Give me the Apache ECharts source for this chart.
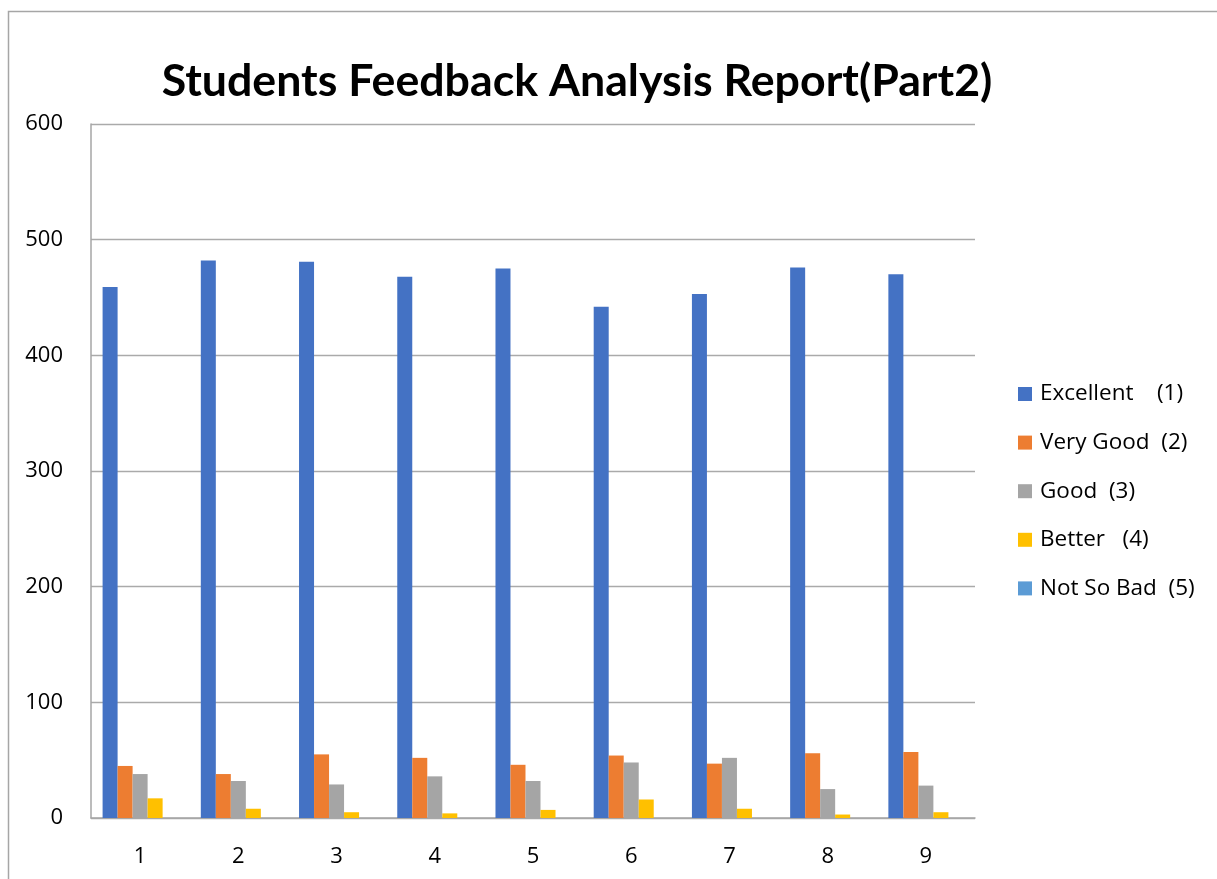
<!DOCTYPE html>
<html>
<head>
<meta charset="utf-8">
<script src="https://cdn.jsdelivr.net/npm/echarts@6/dist/echarts.min.js"></script>
<style>html,body{margin:0;padding:0;background:#fff;}#c{width:1217px;height:879px;}</style>
</head>
<body>
<div id="c"></div>
<script>
const categories = ['1','2','3','4','5','6','7','8','9'];
const seriesNames = ['Excellent    (1)', 'Very Good  (2)', 'Good  (3)', 'Better   (4)', 'Not So Bad  (5)'];
const excellent = [459, 482, 481, 468, 475, 442, 453, 476, 470];
const veryGood  = [45, 38, 55, 52, 46, 54, 47, 56, 57];
const good      = [38, 32, 29, 36, 32, 48, 52, 25, 28];
const better    = [17, 8, 5, 4, 7, 16, 8, 3, 5];
const notSoBad  = [0, 0, 0, 0, 0, 0, 0, 0, 0];
const colors = ['#4472C4', '#ED7D31', '#A5A5A5', '#FFC000', '#5B9BD5'];
const titleText = 'Students Feedback Analysis Report(Part2)';

const values = [excellent, veryGood, good, better, notSoBad];
const chart = echarts.init(document.getElementById('c'), null, {renderer: 'canvas'});
const font = '"Open Sans", "Noto Sans", sans-serif';
chart.setOption({
  animation: false,
  color: colors,
  graphic: [
    {type: 'rect', shape: {x: 8.5, y: 11.5, width: 1400, height: 1000}, style: {fill: 'none', stroke: '#a6a6a6', lineWidth: 1.5}, silent: true, z: -1},
    {type: 'text', x: 577, y: 82, style: {text: titleText, font: 'bold 44.7px Lato, "Open Sans", sans-serif', fill: '#000', textAlign: 'center', textVerticalAlign: 'middle'}}
  ],
  grid: {left: 91, right: 242, top: 124, bottom: 61, containLabel: false},
  legend: {
    orient: 'vertical', left: 1018, top: 382, padding: 0,
    icon: 'rect', itemWidth: 14, itemHeight: 14, itemGap: 24.6,
    textStyle: {fontFamily: font, fontSize: 22.5, color: '#000', lineHeight: 24, padding: [0, 0, 0, 3]},
    data: seriesNames
  },
  xAxis: {
    type: 'category', data: categories,
    axisLine: {show: true, lineStyle: {color: '#a6a6a6', width: 1.5}},
    axisTick: {show: false},
    axisLabel: {fontFamily: font, fontSize: 22, color: '#000', margin: 28}
  },
  yAxis: {
    type: 'value', min: 0, max: 600, interval: 100,
    axisLine: {show: true, lineStyle: {color: '#a6a6a6', width: 1.5}},
    axisTick: {show: false},
    splitLine: {show: true, lineStyle: {color: '#aaaaaa', width: 1.3}},
    axisLabel: {fontFamily: font, fontSize: 22, color: '#000', margin: 28}
  },
  series: seriesNames.map((n, i) => ({
    name: n, type: 'bar', data: values[i],
    barGap: '0%', barCategoryGap: '23.6%',
    itemStyle: {color: colors[i]}
  }))
});
</script>
</body>
</html>
